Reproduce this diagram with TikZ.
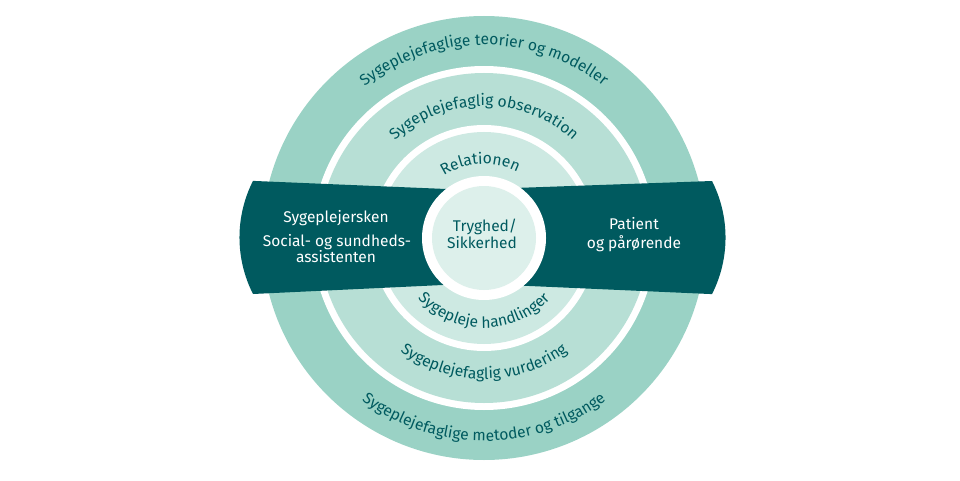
\documentclass[tikz,border=0pt]{standalone}
\usepackage{fontspec}
\setmainfont{Fira Sans}
\usetikzlibrary{decorations.text}
\definecolor{ringA}{HTML}{9AD2C5}
\definecolor{ringB}{HTML}{B7DFD5}
\definecolor{ringC}{HTML}{CDE9E2}
\definecolor{diskc}{HTML}{DDF0EB}
\definecolor{darkc}{HTML}{005A5F}
\newcommand{\ringfont}{\fontsize{15.6}{18}\selectfont}
\begin{document}
\begin{tikzpicture}[x=1pt,y=1pt,
  lbl/.style={font=\fontsize{15.5}{18}\selectfont, inner sep=0pt, anchor=base},
  ringtext/.style={decorate, decoration={text along path, text={|\ringfont|#1}, text align=center, text color=darkc}}]
\useasboundingbox (0,0) rectangle (960,480);
\coordinate (C) at (484,242);
% rings
\fill[ringA] (C) circle[radius=222];
\fill[white] (C) circle[radius=172];
\fill[ringB] (C) circle[radius=165];
\fill[white] (C) circle[radius=113];
\fill[ringC] (C) circle[radius=106];
% dark bands
\fill[darkc] (253,186) arc[start angle=206.9, end angle=153.1, radius=125]
  -- (470,290) -- (470,196.3) -- cycle;
\fill[darkc] (712,299) arc[start angle=26.9, end angle=-26.9, radius=125]
  -- (498,195.4) -- (498,291.4) -- cycle;
% centre
\fill[white] (C) circle[radius=62];
\fill[diskc] (C) circle[radius=52];
% ring texts
\path[ringtext={Sygeplejefaglige teorier og modeller}]
  ([shift={(160:193)}]C) arc[start angle=160, end angle=20, radius=193];
\path[ringtext={Sygeplejefaglig observation}]
  ([shift={(160:132)}]C) arc[start angle=160, end angle=20, radius=132];
\path[ringtext={Relationen}]
  ([shift={(160:74)}]C) arc[start angle=160, end angle=26, radius=74];
\path[ringtext={Sygeplejefaglige metoder og tilgange}]
  ([shift={(200:203)}]C) arc[start angle=200, end angle=340, radius=203];
\path[ringtext={Sygeplejefaglig vurdering}]
  ([shift={(200:141)}]C) arc[start angle=200, end angle=340, radius=141];
\path[ringtext={Sygepleje handlinger}]
  ([shift={(195:90)}]C) arc[start angle=195, end angle=345, radius=90];
% labels
\node[lbl, text=white] (nurse) at (336,257.7) {Sygeplejersken};
\node[lbl, text=white] (social) at (337,234) {Social- og sundheds-};
\node[lbl, text=white] (assist) at (336,217.3) {assistenten};
\node[lbl, text=white] (patient) at (634,250.7) {Patient};
\node[lbl, text=white] (relatives) at (634,231.7) {og pårørende};
\node[lbl, text=darkc] (safe1) at (485,248.3) {Tryghed/};
\node[lbl, text=darkc] (safe2) at (482,231.7) {Sikkerhed};
\end{tikzpicture}
\end{document}
